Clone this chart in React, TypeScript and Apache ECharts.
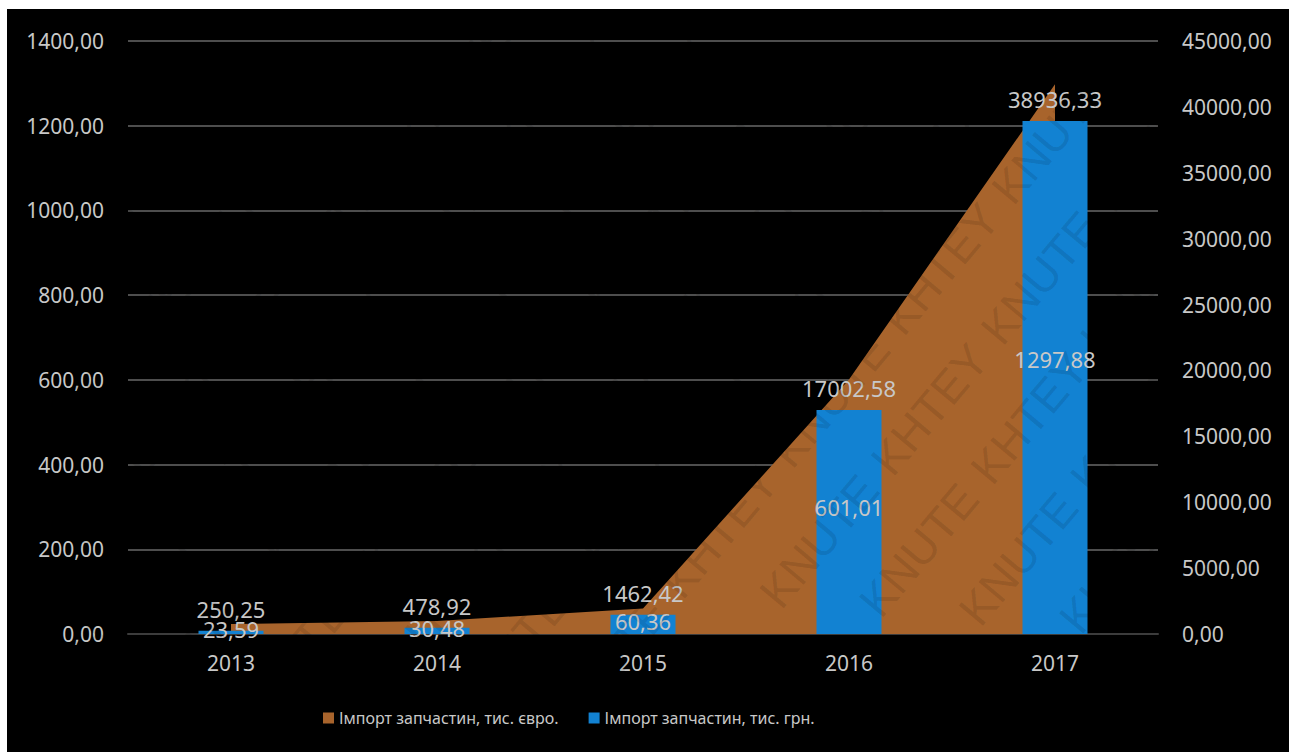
import React, { useEffect, useRef } from 'react';
import * as echarts from 'echarts';

const years = ['2013', '2014', '2015', '2016', '2017'];
const importEur = [23.59, 30.48, 60.36, 601.01, 1297.88];
const importUah = [250.25, 478.92, 1462.42, 17002.58, 38936.33];
const seriesNames = ['Імпорт запчастин, тис. євро.', 'Імпорт запчастин, тис. грн.'];
const watermarkWords = ['KNUTE', 'KHTEY'];

const fmt = (v: number) => Number(v).toFixed(2).replace('.', ',');

const TEXT = '#c8c8c8';
const FONT = 'Noto Sans';

function buildWatermark() {
  const out: any[] = [];
  const ang = (50 * Math.PI) / 180;
  const dx = Math.cos(ang);
  const dy = -Math.sin(ang);
  const nx = Math.sin(ang);
  const ny = Math.cos(ang);
  const step = 172;
  const row = 82;
  for (let r = -25; r <= 25; r++) {
    for (let i = -6; i <= 24; i++) {
      const shift = ((r % 3) + 3) % 3 * (step / 3);
      const cx = (i * step + shift) * dx + r * row * nx;
      const cy = 752 + (i * step + shift) * dy + r * row * ny;
      if (cx < 72 || cx > 1222 || cy < 80 || cy > 672) continue;
      out.push({
        type: 'text',
        x: cx,
        y: cy,
        rotation: ang,
        z: 100,
        silent: true,
        style: {
          text: watermarkWords[((i % 2) + 2) % 2],
          fill: 'rgba(0,0,0,0.11)',
          font: '46px "Liberation Sans"',
          align: 'center',
          verticalAlign: 'middle',
        },
      });
    }
  }
  return out;
}

export default function App() {
  const ref = useRef<HTMLDivElement>(null);
  useEffect(() => {
    if (!ref.current) return;
    const chart = echarts.init(ref.current, undefined, { renderer: 'svg' });

    chart.setOption({
      animation: false,
      backgroundColor: '#ffffff',
      textStyle: { fontFamily: FONT },
      graphic: [
        {
          type: 'rect',
          z: -10,
          silent: true,
          shape: { x: 7, y: 9, width: 1282, height: 743 },
          style: { fill: '#000000' },
        },
        ...buildWatermark(),
      ],
      grid: { left: 128, right: 137, top: 41, bottom: 118, containLabel: false },
      legend: {
        data: seriesNames,
        left: 323,
        top: 710,
        padding: 0,
        itemWidth: 11,
        itemHeight: 11,
        itemGap: 30,
        icon: 'rect',
        textStyle: { color: TEXT, fontSize: 16, fontFamily: FONT },
      },
      xAxis: {
        type: 'category',
        data: years,
        boundaryGap: true,
        axisLine: { lineStyle: { color: '#3c3c3c', width: 2 } },
        axisTick: { show: false },
        axisLabel: { color: TEXT, fontSize: 21, margin: 18 },
      },
      yAxis: [
        {
          type: 'value',
          min: 0,
          max: 1400,
          interval: 200,
          axisLine: { show: false },
          axisTick: { show: false },
          axisLabel: { color: TEXT, fontSize: 21, margin: 24, formatter: (v: number) => fmt(v) },
          splitLine: { lineStyle: { color: '#4e4e4e', width: 2 } },
        },
        {
          type: 'value',
          min: 0,
          max: 45000,
          interval: 5000,
          position: 'right',
          axisLine: { show: false },
          axisTick: { show: false },
          axisLabel: { color: TEXT, fontSize: 21, margin: 24, formatter: (v: number) => fmt(v) },
          splitLine: { show: false },
        },
      ],
      series: [
        {
          name: seriesNames[0],
          type: 'line',
          yAxisIndex: 0,
          data: importEur,
          symbol: 'none',
          lineStyle: { width: 0 },
          itemStyle: { color: '#a8642c' },
          areaStyle: { color: '#a8642c', opacity: 1 },
          z: 1,
        },
        {
          name: seriesNames[1],
          type: 'bar',
          yAxisIndex: 1,
          data: importUah,
          barWidth: 65,
          barGap: '-100%',
          itemStyle: { color: '#1282d2' },
          label: {
            show: true,
            position: 'top',
            distance: 11,
            color: TEXT,
            fontSize: 22,
            formatter: (p: any) => fmt(p.value),
          },
          z: 2,
        },
        {
          name: 'labels-eur',
          type: 'bar',
          yAxisIndex: 0,
          data: importEur,
          barWidth: 65,
          barGap: '-100%',
          silent: true,
          itemStyle: { color: 'rgba(0,0,0,0)' },
          label: {
            show: true,
            position: 'inside',
            color: TEXT,
            fontSize: 22,
            formatter: (p: any) => fmt(p.value),
          },
          z: 3,
        },
      ],
    });
    return () => chart.dispose();
  }, []);
  return (
    <div
      ref={ref}
      style={{ position: 'fixed', left: 0, top: 0, width: 1295, height: 752 }}
    />
  );
}
